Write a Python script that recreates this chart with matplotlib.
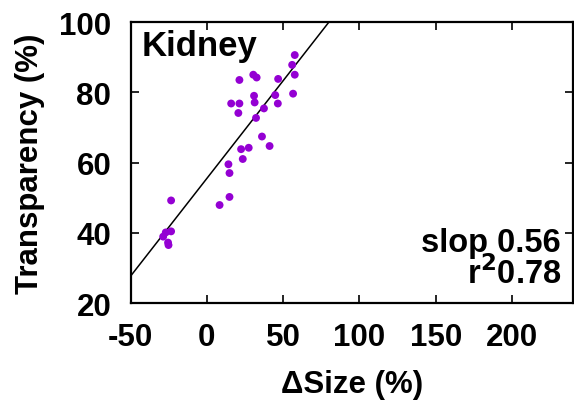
import numpy as np
import matplotlib
matplotlib.use("Agg")
import matplotlib.pyplot as plt

# values
size_change = [57.6, 55.9, 57.6, 46.7, 21.3, 30.4, 32.6, 56.5, 44.8, 30.9,
               15.9, 21.3, 31.3, 46.5, 37.4, 20.6, 32.2, 36.1, 22.4, 27.4,
               41.1, 23.5, 14.1, 14.8, 14.8, 8.3, -23.5, -23.5, -27.0, -28.7,
               -25.5, -25.2]
transparency = [90.6, 87.8, 85.0, 83.8, 83.5, 85.0, 84.2, 79.6, 79.2, 79.0,
                76.8, 76.8, 77.1, 76.8, 75.4, 74.1, 72.7, 67.4, 63.8, 64.2,
                64.7, 61.0, 59.5, 57.0, 50.2, 47.9, 49.2, 40.4, 40.1, 38.9,
                37.2, 36.5]
fit_slope = 0.556
fit_intercept = 55.5
xticks = [-50, 0, 50, 100, 150, 200]
yticks = [20, 40, 60, 80, 100]

plt.rcParams['font.family'] = ['Liberation Sans', 'DejaVu Sans']
plt.rcParams['font.weight'] = 'bold'
plt.rcParams['font.size'] = 22
plt.rcParams['axes.unicode_minus'] = False

fig = plt.figure(figsize=(5.74, 4.06), dpi=100)
ax = fig.add_axes([0.2277, 0.2512, 0.7703, 0.6921])

ax.scatter(size_change, transparency, s=32, color='#9400d3', zorder=3,
           edgecolors='none')
xx = np.array([-50, 240])
ax.plot(xx, fit_slope * xx + fit_intercept, color='black', lw=1.1, zorder=2)

ax.set_xlim(-50, 240)
ax.set_ylim(20, 100)
ax.set_xticks(xticks)
ax.set_yticks(yticks)
ax.tick_params(direction='in', length=6, width=1.2, top=True, right=True,
               labelsize=22.5, pad=14)
for lab in ax.get_xticklabels() + ax.get_yticklabels():
    lab.set_fontweight('bold')
for sp in ax.spines.values():
    sp.set_linewidth(1.6)

ax.set_xlabel('ΔSize (%)', fontsize=22.5, fontweight='bold', labelpad=12)
ax.set_ylabel('Transparency (%)', fontsize=22.5, fontweight='bold', labelpad=10)

ax.text(0.025, 0.975, 'Kidney', transform=ax.transAxes, ha='left', va='top',
        fontsize=25, fontweight='bold')
ax.text(0.973, 0.215, 'slop 0.56', transform=ax.transAxes, ha='right',
        va='center', fontsize=23.5, fontweight='bold')
ax.text(0.973, 0.11, r'r$^\mathbf{2}$0.78', transform=ax.transAxes, ha='right',
        va='center', fontsize=23.5, fontweight='bold')

fig.savefig('out.png', dpi=100)
